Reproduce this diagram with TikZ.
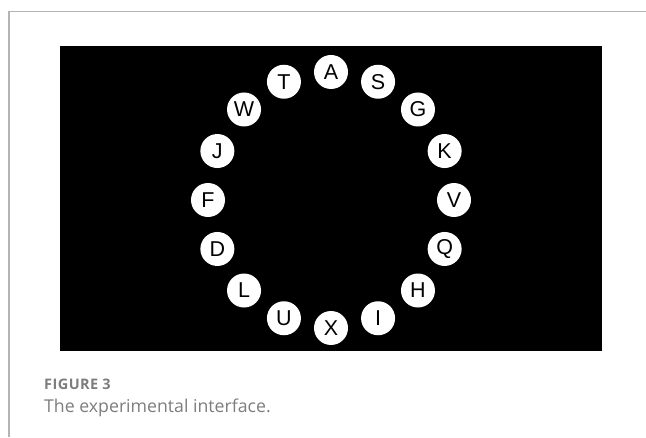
\documentclass[tikz,border=0pt]{standalone}
\usepackage{fontspec}
\setmainfont{Liberation Sans}
\newfontfamily\captionfont{Open Sans}
\newfontfamily\labelfont[LetterSpace=3]{Open Sans}
\usepackage{xcolor}
\usepackage{tikz}
\usetikzlibrary{positioning,calc}
\definecolor{IFBlack}  {HTML}{000000}
\definecolor{IFWhite}  {HTML}{FFFFFF}
\definecolor{IFRule}   {HTML}{B4B4B4}
\definecolor{IFCaption}{HTML}{7D7D7D}

\begin{document}
\begin{tikzpicture}[x=1pt,y=1pt,
    keydot/.style={circle,fill=IFWhite,minimum size=34pt,inner sep=0pt,
      font=\fontsize{21.5}{22}\selectfont,text=IFBlack}]
    \useasboundingbox (0,0) rectangle (646,437);
    % frame
    \draw[IFRule,line width=1.4pt] (9,0) -- (9,425.5) -- (646,425.5);
    % screen
    \fill[IFBlack] (60,86) rectangle (602,390.5);
    \coordinate (hub) at (331,237);
    % letters, clockwise from the top
    \foreach \ltr/\ang in {A/90,S/67.5,G/45,K/22.5,V/0,Q/-22.5,H/-45,I/-67.5,
                           X/-90,U/-112.5,L/-135,D/-157.5,F/180,J/157.5,W/135,T/112.5}
      \node[keydot] (key-\ltr) at ($(hub)+(\ang:123 and 128)$) {\ltr};
    % caption
    \node[font=\labelfont\bfseries\fontsize{14.5}{15}\selectfont,text=IFCaption,anchor=base west,inner sep=0pt] (figlabel) at (44,48) {FIGURE 3};
    \node[font=\captionfont\fontsize{17.7}{19}\selectfont,text=IFCaption,anchor=base west,inner sep=0pt] (figtext) at (44,25) {The experimental interface.};
\end{tikzpicture}
\end{document}
